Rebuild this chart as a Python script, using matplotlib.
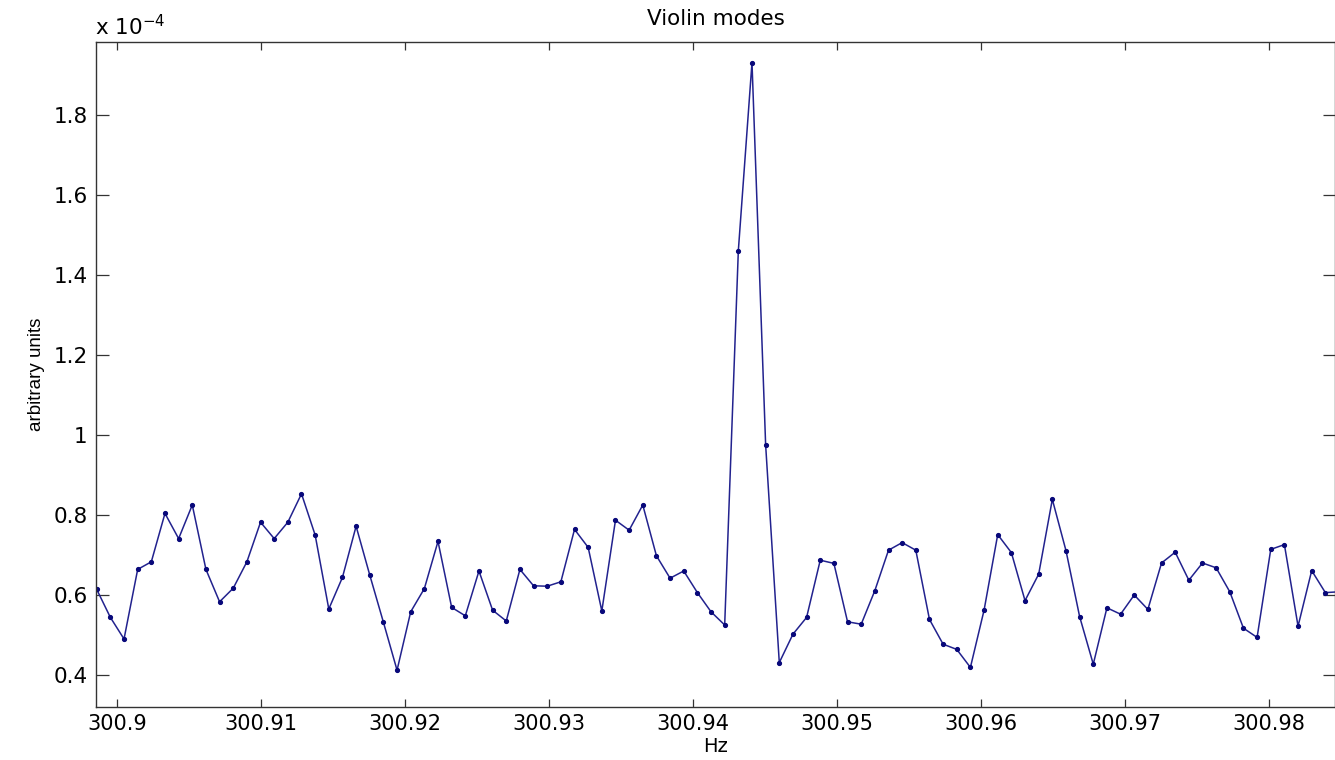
import numpy as np
import matplotlib
matplotlib.use("Agg")
import matplotlib.pyplot as plt
from matplotlib.ticker import FuncFormatter, FixedLocator

# ---- data (amplitude in units of 1e-4) ----
freq_start = 300.89859      # Hz, first bin
freq_step = 0.000948        # Hz, bin spacing
amplitude_e4 = [
    0.614, 0.544, 0.490, 0.664, 0.683, 0.804, 0.741, 0.825, 0.664, 0.583,
    0.617, 0.683, 0.782, 0.741, 0.782, 0.853, 0.750, 0.565, 0.644, 0.772,
    0.650, 0.532, 0.412, 0.558, 0.616, 0.734, 0.569, 0.548, 0.660, 0.562,
    0.535, 0.664, 0.623, 0.622, 0.633, 0.764, 0.719, 0.560, 0.787, 0.762,
    0.825, 0.698, 0.642, 0.660, 0.606, 0.558, 0.525, 1.461, 1.931, 0.975,
    0.431, 0.502, 0.544, 0.687, 0.679, 0.533, 0.527, 0.611, 0.712, 0.731,
    0.712, 0.539, 0.477, 0.464, 0.419, 0.562, 0.751, 0.706, 0.586, 0.652,
    0.839, 0.711, 0.546, 0.427, 0.568, 0.552, 0.600, 0.564, 0.680, 0.707,
    0.637, 0.680, 0.668, 0.608, 0.517, 0.494, 0.714, 0.726, 0.522, 0.661,
    0.606, 0.608,
]
xtick_values = [300.90, 300.91, 300.92, 300.93, 300.94, 300.95, 300.96, 300.97, 300.98]
xtick_labels = ["300.9", "300.91", "300.92", "300.93", "300.94", "300.95", "300.96", "300.97", "300.98"]
ytick_values_e4 = [0.4, 0.6, 0.8, 1.0, 1.2, 1.4, 1.6, 1.8]

title_text = "Violin modes"
xlabel_text = "Hz"
ylabel_text = "arbitrary units"

freqs = freq_start + freq_step * np.arange(len(amplitude_e4))
amps = np.array(amplitude_e4) * 1e-4

W, H = 1335, 760
fig = plt.figure(figsize=(W / 100, H / 100), dpi=100)
fig.patch.set_facecolor("white")
ax = fig.add_axes([96 / W, 1 - 707 / H, (1335 - 96) / W, (707 - 42) / H])

line_color = "#22228e"
ax.plot(freqs, amps, color=line_color, linewidth=1.1, marker=".",
        markersize=5.5, markerfacecolor="#08087a", markeredgecolor="#08087a")

ax.set_xlim(300.89854, 300.98458)
ax.set_ylim(0.32e-4, 1.9825e-4)

ax.xaxis.set_major_locator(FixedLocator(xtick_values))
ax.set_xticklabels(xtick_labels)
ax.yaxis.set_major_locator(FixedLocator([v * 1e-4 for v in ytick_values_e4]))
ax.yaxis.set_major_formatter(FuncFormatter(lambda v, p: "%g" % round(v / 1e-4, 6)))

tick_font = "DejaVu Sans"
ax.tick_params(axis="x", which="major", direction="in", length=6, width=0.9,
               color="#333333", labelsize=15, top=True, bottom=True, pad=5)
ax.tick_params(axis="y", which="major", direction="in", length=9, width=0.9,
               color="#333333", labelsize=15.5, left=True, right=True, pad=6)
for lab in ax.get_xticklabels() + ax.get_yticklabels():
    lab.set_fontfamily(tick_font)
for sp in ax.spines.values():
    sp.set_color("#333333")
    sp.set_linewidth(1.0)

ax.set_title(title_text, fontsize=15.5, family=tick_font, pad=12)
ax.set_xlabel(xlabel_text, fontsize=14, family=tick_font, labelpad=2)
ax.set_ylabel(ylabel_text, fontsize=13.5, family="Liberation Sans", labelpad=6)

fig.text(95 / W, 1 - 35 / H, r"x 10$^{\mathregular{-4}}$", fontsize=15.5,
         family=tick_font, ha="left", va="baseline")

fig.savefig("out.png", dpi=100, facecolor="white")
